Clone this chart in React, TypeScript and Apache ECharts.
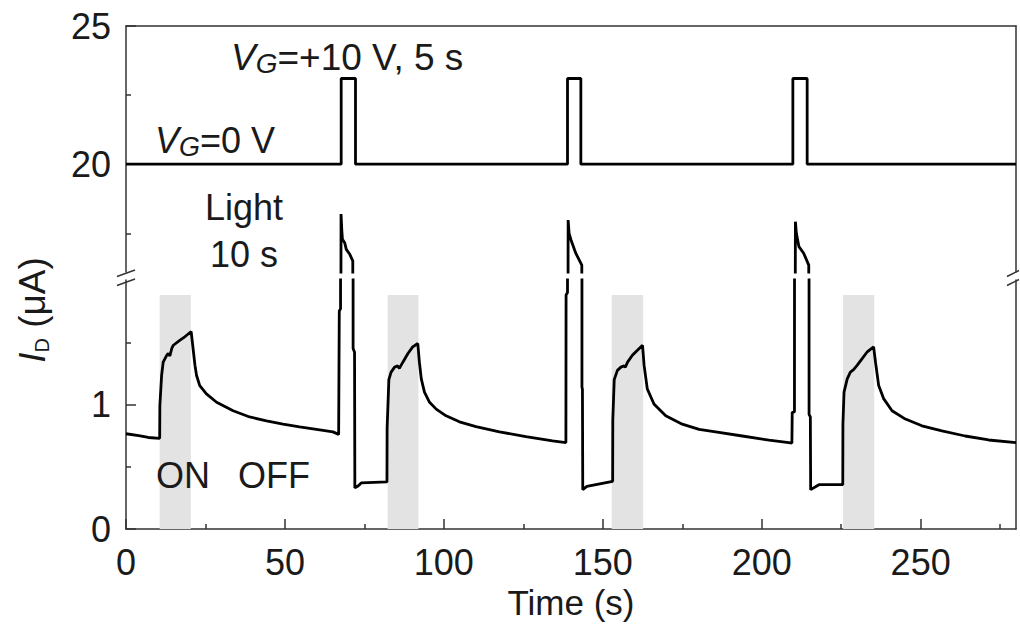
import React, { useEffect, useRef } from "react";
import * as echarts from "echarts";

// Drain current I_D (µA) versus time (s); the gate pulses drive I_D far above the lower panel.
const timeS = [
  0, 4, 7, 10.6,
  10.65, 11.2, 11.7, 12.8, 13.3, 13.8, 14.4, 14.9, 17.0, 18.5, 20.5,
  21.1, 21.7, 22.2, 23.2, 25.3, 28.5, 33.7, 38.9, 44.2, 49.4, 54.6, 59.9, 65.1, 66.9,
  67.1, 67.5, 67.65, 67.9, 68.1, 68.8, 69.3, 70.4, 71.35, 71.45, 71.9, 72.0, 73.0, 74.0, 82.1,
  82.15, 82.7, 83.4, 84.5, 85.5, 86.0, 87.1, 88.7, 90.2, 91.8,
  92.3, 92.9, 93.9, 95.5, 97.6, 100.7, 104.9, 110.1, 117.5, 125.8, 134.2, 138.4,
  138.45, 138.9, 139.1, 139.4, 140.0, 141.5, 143.4, 143.45, 143.6, 143.7, 145.0, 153.1,
  153.15, 153.6, 154.6, 155.7, 156.7, 157.1, 157.8, 159.3, 160.9, 162.5,
  163.0, 164.0, 166.1, 169.8, 175.0, 180.3, 185.5, 193.9, 202.3, 208.5, 209.5,
  209.6, 210.3, 210.6, 210.9, 211.7, 213.2, 214.8, 214.9, 215.3, 215.4, 218.0, 225.5,
  225.55, 225.9, 226.9, 227.9, 228.9, 230.0, 231.6, 233.1, 235.2,
  235.8, 236.8, 238.4, 241.0, 245.2, 250.4, 256.7, 264.0, 271.4, 280,
];
const drainCurrentUA = [
  0.765, 0.75, 0.735, 0.728,
  0.99, 1.233, 1.34, 1.395, 1.41, 1.39, 1.45, 1.476, 1.517, 1.544, 1.585,
  1.45, 1.314, 1.233, 1.152, 1.085, 1.018, 0.95, 0.9, 0.869, 0.842, 0.82, 0.8, 0.78, 0.76,
  1.75, 1.77, 18.2, 17.6, 17.28, 17.16, 16.92, 16.74, 16.5, 1.45, 1.42, 0.33, 0.345, 0.37, 0.378,
  0.81, 1.2, 1.26, 1.3, 1.31, 1.29, 1.34, 1.41, 1.463, 1.49,
  1.34, 1.206, 1.1, 1.018, 0.963, 0.909, 0.861, 0.823, 0.78, 0.742, 0.707, 0.694,
  1.88, 1.9, 17.98, 17.5, 17.26, 16.78, 16.35, 1.14, 1.12, 0.316, 0.343, 0.383,
  0.875, 1.2, 1.274, 1.3, 1.31, 1.3, 1.34, 1.395, 1.436, 1.476,
  1.314, 1.125, 1.004, 0.909, 0.842, 0.8, 0.78, 0.747, 0.713, 0.694, 0.69,
  0.937, 0.94, 17.92, 17.5, 17.02, 16.78, 16.35, 0.92, 0.9, 0.316, 0.356, 0.356,
  0.842, 1.1, 1.206, 1.26, 1.28, 1.314, 1.368, 1.42, 1.463,
  1.34, 1.152, 1.045, 0.95, 0.883, 0.829, 0.788, 0.747, 0.715, 0.694,
];

// Gate-voltage trace drawn in the upper panel: baseline with three 5 s pulses.
const gateTimeS = [0, 67.7, 67.7, 72.2, 72.2, 138.9, 138.9, 143.1, 143.1, 209.8, 209.8, 214.3, 214.3, 280];
const gateTrace = [20, 20, 23.1, 23.1, 20, 20, 23.1, 23.1, 20, 20, 23.1, 23.1, 20, 20];

// Light-on intervals (s) and the height of the shaded band (µA).
const lightOnS = [
  [10.6, 20.4],
  [82.3, 92.0],
  [152.8, 162.7],
  [225.6, 235.4],
];
const lightBandTop = 1.88;

// Axis ticks.
const timeTicks = [0, 50, 100, 150, 200, 250];
const timeMinorTicks = [25, 75, 125, 175, 225, 275];
const upperTicks = [20, 25];
const upperMinorTicks = [17.5, 22.5];
const lowerTicks = [0, 1];
const lowerMinorTicks = [0.5, 1.5];

const FONT = "'Liberation Sans', Arial, sans-serif";
const INK = "#1a1a1a";
const AXIS = { color: "#333", width: 1.5 };

const tokens = (size: number, lineHeight: number, extra: Record<string, unknown> = {}) => ({
  fontFamily: FONT,
  fontSize: size,
  lineHeight,
  fill: INK,
  ...extra,
});

function buildOption() {
  const drain = timeS.map((t, i) => [t, drainCurrentUA[i]]);
  const gate = gateTimeS.map((t, i) => [t, gateTrace[i]]);

  const lineStyle = { color: "#000", width: 2.8 };

  const hiddenAxisBits = {
    axisLabel: { show: false },
    splitLine: { show: false },
  };

  return {
    animation: false,
    backgroundColor: "#fff",
    grid: [
      { left: 126, top: 26, width: 890, height: 246 },
      { left: 126, top: 280, width: 890, height: 249 },
    ],
    xAxis: [
      {
        gridIndex: 0,
        type: "value",
        position: "top",
        min: 0,
        max: 280,
        axisLine: { show: true, onZero: false, lineStyle: AXIS },
        axisTick: { show: false },
        ...hiddenAxisBits,
      },
      {
        gridIndex: 1,
        type: "value",
        position: "bottom",
        min: 0,
        max: 280,
        axisLine: { show: true, onZero: false, lineStyle: AXIS },
        axisTick: { show: true, inside: true, length: 10, customValues: timeTicks, lineStyle: AXIS },
        axisLabel: { customValues: timeTicks, margin: 15, fontSize: 36, color: INK, fontFamily: FONT },
        splitLine: { show: false },
        name: "Time (s)",
        nameLocation: "middle",
        nameGap: 56,
        nameTextStyle: { fontSize: 35, color: INK, fontFamily: FONT },
      },
      {
        gridIndex: 1,
        type: "value",
        position: "bottom",
        min: 0,
        max: 280,
        axisLine: { show: false, onZero: false },
        axisTick: { show: true, inside: true, length: 5, customValues: timeMinorTicks, lineStyle: AXIS },
        ...hiddenAxisBits,
      },
    ],
    yAxis: [
      {
        gridIndex: 0,
        type: "value",
        position: "left",
        min: 16.1,
        max: 25,
        axisLine: { show: true, onZero: false, lineStyle: AXIS },
        axisTick: { show: true, inside: true, length: 10, customValues: upperTicks, lineStyle: AXIS },
        axisLabel: { customValues: upperTicks, margin: 15, fontSize: 36, color: INK, fontFamily: FONT },
        splitLine: { show: false },
      },
      {
        gridIndex: 0,
        type: "value",
        position: "left",
        min: 16.1,
        max: 25,
        axisLine: { show: false, onZero: false },
        axisTick: { show: true, inside: true, length: 5, customValues: upperMinorTicks, lineStyle: AXIS },
        ...hiddenAxisBits,
      },
      {
        gridIndex: 0,
        type: "value",
        position: "right",
        min: 16.1,
        max: 25,
        axisLine: { show: true, onZero: false, lineStyle: AXIS },
        axisTick: { show: false },
        ...hiddenAxisBits,
      },
      {
        gridIndex: 1,
        type: "value",
        position: "left",
        min: 0,
        max: 2,
        axisLine: { show: true, onZero: false, lineStyle: AXIS },
        axisTick: { show: true, inside: true, length: 10, customValues: lowerTicks, lineStyle: AXIS },
        axisLabel: { customValues: lowerTicks, margin: 15, fontSize: 36, color: INK, fontFamily: FONT },
        splitLine: { show: false },
      },
      {
        gridIndex: 1,
        type: "value",
        position: "left",
        min: 0,
        max: 2,
        axisLine: { show: false, onZero: false },
        axisTick: { show: true, inside: true, length: 5, customValues: lowerMinorTicks, lineStyle: AXIS },
        ...hiddenAxisBits,
      },
      {
        gridIndex: 1,
        type: "value",
        position: "right",
        min: 0,
        max: 2,
        axisLine: { show: true, onZero: false, lineStyle: AXIS },
        axisTick: { show: false },
        ...hiddenAxisBits,
      },
    ],
    series: [
      {
        name: "V_G",
        type: "line",
        xAxisIndex: 0,
        yAxisIndex: 0,
        data: gate,
        showSymbol: false,
        symbol: "none",
        lineStyle,
        clip: true,
      },
      {
        name: "I_D upper",
        type: "line",
        xAxisIndex: 0,
        yAxisIndex: 0,
        data: drain,
        showSymbol: false,
        symbol: "none",
        lineStyle,
        clip: true,
      },
      {
        name: "I_D lower",
        type: "line",
        xAxisIndex: 1,
        yAxisIndex: 3,
        data: drain,
        showSymbol: false,
        symbol: "none",
        lineStyle,
        clip: true,
        z: 3,
        markArea: {
          silent: true,
          itemStyle: { color: "#e3e3e3" },
          data: lightOnS.map(([a, b]) => [
            { xAxis: a, yAxis: 0 },
            { xAxis: b, yAxis: lightBandTop },
          ]),
        },
      },
    ],
    graphic: [
      // axis-break marks
      ...[
        [117, 276.5, 135, 270],
        [117, 285.5, 135, 279],
        [1007, 276.5, 1019, 270.5],
        [1007, 285.5, 1019, 279.5],
      ].map(([x1, y1, x2, y2]) => ({
        type: "line",
        shape: { x1, y1, x2, y2 },
        style: { stroke: "#333", lineWidth: 1.4 },
        z: 10,
      })),
      {
        type: "text",
        x: 231,
        y: 57,
        z: 10,
        style: {
          text: "{v|V}{g|G}{t|=+10 V, 5 s}",
          align: "left",
          verticalAlign: "middle",
          rich: {
            v: tokens(37, 40, { fontStyle: "italic" }),
            g: tokens(28, 25, { fontStyle: "italic", verticalAlign: "bottom" }),
            t: tokens(37, 40),
          },
        },
      },
      {
        type: "text",
        x: 155,
        y: 140,
        z: 10,
        style: {
          text: "{v|V}{g|G}{t|=0 V}",
          align: "left",
          verticalAlign: "middle",
          rich: {
            v: tokens(36, 40, { fontStyle: "italic" }),
            g: tokens(27, 25, { fontStyle: "italic", verticalAlign: "bottom" }),
            t: tokens(36, 40),
          },
        },
      },
      {
        type: "text",
        x: 244,
        y: 207,
        z: 10,
        style: { text: "Light", align: "center", verticalAlign: "middle", fontSize: 36, fontFamily: FONT, fill: INK },
      },
      {
        type: "text",
        x: 244,
        y: 254,
        z: 10,
        style: { text: "10 s", align: "center", verticalAlign: "middle", fontSize: 36, fontFamily: FONT, fill: INK },
      },
      {
        type: "text",
        x: 156,
        y: 475,
        z: 10,
        style: { text: "ON", align: "left", verticalAlign: "middle", fontSize: 36, fontFamily: FONT, fill: INK },
      },
      {
        type: "text",
        x: 238,
        y: 475,
        z: 10,
        style: { text: "OFF", align: "left", verticalAlign: "middle", fontSize: 36, fontFamily: FONT, fill: INK },
      },
      {
        type: "text",
        x: 32,
        y: 310,
        rotation: Math.PI / 2,
        z: 10,
        style: {
          text: "{i|I}{d|D}{t| (μA)}",
          align: "center",
          verticalAlign: "middle",
          rich: {
            i: tokens(37, 40, { fontStyle: "italic" }),
            d: tokens(20, 10, { verticalAlign: "bottom" }),
            t: tokens(37, 40),
          },
        },
      },
    ],
  };
}

export default function App() {
  const ref = useRef<HTMLDivElement>(null);

  useEffect(() => {
    if (!ref.current) return;
    const chart = echarts.init(ref.current, undefined, { renderer: "svg" });
    chart.setOption(buildOption() as any);
    return () => chart.dispose();
  }, []);

  return (
    <div
      ref={ref}
      style={{ position: "fixed", left: 0, top: 0, width: 1020, height: 630, background: "#fff" }}
    />
  );
}
